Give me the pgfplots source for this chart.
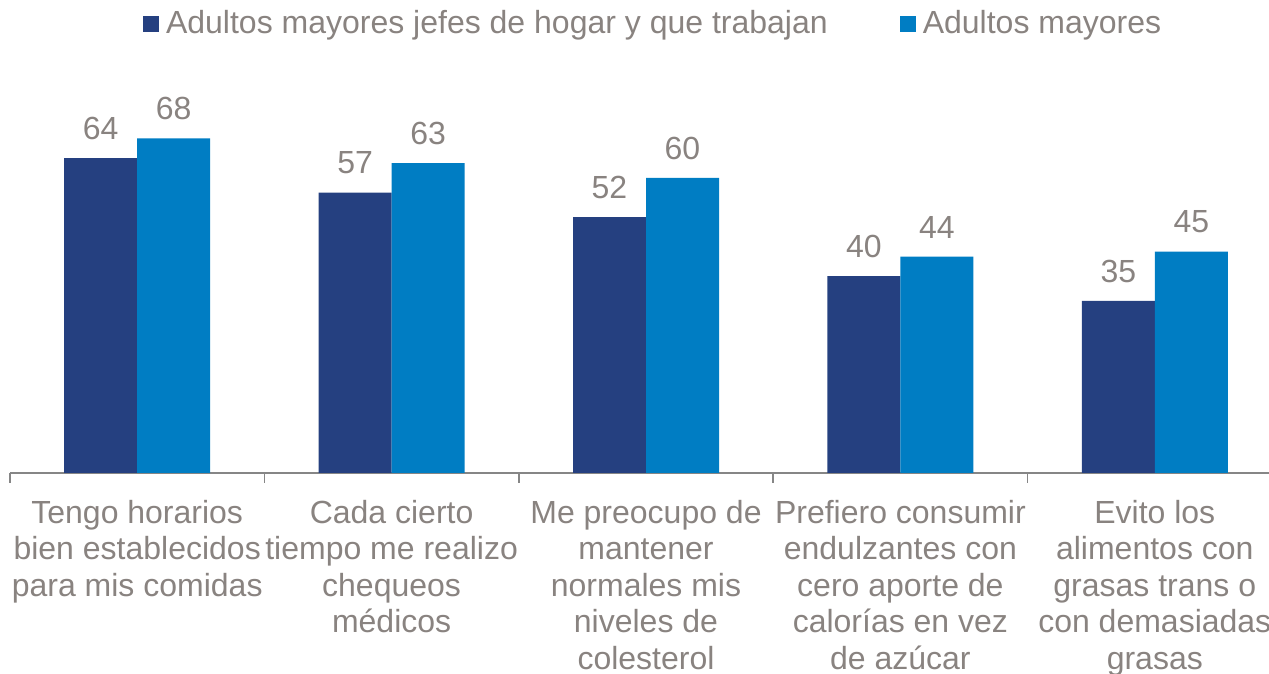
\documentclass[border=0pt]{standalone}
\usepackage{pgfplots}
\pgfplotsset{compat=1.18}
\usepackage{fontspec}
\setmainfont{Liberation Sans}
\definecolor{navy}{RGB}{37,64,128}
\definecolor{azul}{RGB}{0,125,195}
\definecolor{texto}{RGB}{137,131,128}
\definecolor{eje}{RGB}{134,134,134}
\newcommand{\chartfont}{\fontsize{16}{18.25}\selectfont}
\begin{document}
\begin{tikzpicture}
\begin{axis}[
  at={(0,0)}, anchor=south west,
  scale only axis, width=636pt, height=196.8pt,
  ybar=0pt, bar width=36.5pt,
  xmin=-0.5, xmax=4.5, ymin=0, ymax=80,
  axis x line=bottom, axis y line=none,
  axis line style={-, draw=eje, line width=0.8pt},
  xtick={0,...,4},
  xticklabels={
    {Tengo horarios\\bien establecidos\\para mis comidas},
    {Cada cierto\\tiempo me realizo\\chequeos\\médicos},
    {Me preocupo de\\mantener\\normales mis\\niveles de\\colesterol},
    {Prefiero consumir\\endulzantes con\\cero aporte de\\calorías en vez\\de azúcar},
    {Evito los\\alimentos con\\grasas trans o\\con demasiadas\\grasas}},
  major tick length=0pt,
  minor xtick={-0.5,0.5,1.5,2.5,3.5,4.5},
  minor tick length=5pt, tick align=outside,
  minor x tick style={draw=eje, line width=0.8pt},
  xticklabel style={font=\chartfont, text=texto, align=center, anchor=north, inner sep=0pt, yshift=-13.3pt},
  /pgf/number format/assume math mode=true,
  nodes near coords,
  nodes near coords style={font=\chartfont, text=texto, anchor=south, inner sep=0pt, yshift=9pt},
  legend columns=2,
  legend style={draw=none, fill=none, inner sep=0pt, outer sep=0pt,
    at={(0.1046,1.1418)}, anchor=west,
    font=\chartfont, text=texto,
    nodes={inner sep=0pt},
    /tikz/every odd column/.append style={column sep=3.5pt},
    /tikz/every even column/.append style={column sep=36pt}},
  legend image code/.code={\fill[#1] (0pt,-4pt) rectangle (8pt,4pt);},
]
\addplot[fill=navy, draw=none] coordinates {(0,64) (1,57) (2,52) (3,40) (4,35)};
\addlegendentry{Adultos mayores jefes de hogar y que trabajan}
\addplot[fill=azul, draw=none] coordinates {(0,68) (1,63) (2,60) (3,44) (4,45)};
\addlegendentry{Adultos mayores}
\end{axis}
\pgfresetboundingbox
\path (-5pt,-100.5pt) rectangle (629.5pt,236.5pt);
\end{tikzpicture}
\end{document}
